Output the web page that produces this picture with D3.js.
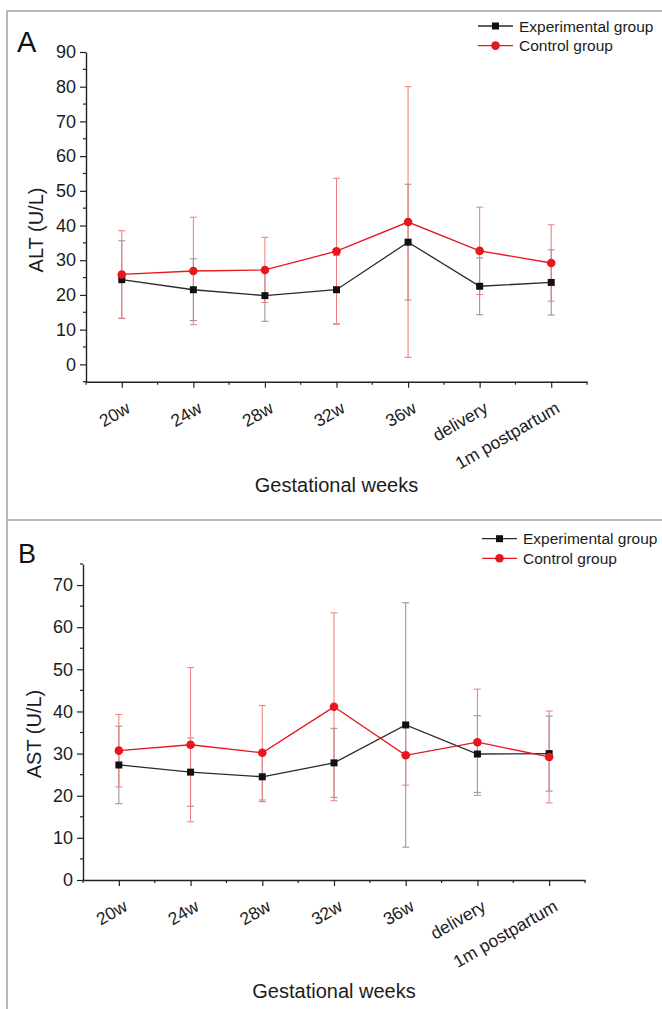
<!DOCTYPE html>
<html>
<head>
<meta charset="utf-8">
<script src="https://cdn.jsdelivr.net/npm/d3@7"></script>
<style>
	body{margin:0;background:#fff}
	svg{display:block;font-family:"Liberation Sans",Arial,sans-serif}
</style>
</head>
<body>
<div id="chart"></div>
<script>
var weeks=['20w','24w','28w','32w','36w','delivery','1m postpartum']
var seriesNames=['Experimental group','Control group']

// panel A, ALT
var altExpMean=[24.4, 21.5, 19.8, 21.5, 35.2, 22.5, 23.6]
var altExpSd=[11.2, 8.9, 7.4, 9.9, 16.7, 8.2, 9.4]
var altCtrlMean=[25.9, 26.9, 27.2, 32.6, 41.0, 32.7, 29.2]
var altCtrlSd=[12.6, 15.5, 9.4, 21.0, 39.0, 12.6, 11.0]
var altTicks=[0,10,20,30,40,50,60,70,80,90]

// panel B, AST
var astExpMean=[27.3, 25.6, 24.5, 27.8, 36.8, 29.9, 30.0]
var astExpSd=[9.2, 8.1, 5.9, 8.2, 29.0, 9.1, 8.9]
var astCtrlMean=[30.7, 32.1, 30.2, 41.1, 29.6, 32.7, 29.2]
var astCtrlSd=[8.6, 18.3, 11.2, 22.3, 7.1, 12.6, 10.9]
var astTicks=[0,10,20,30,40,50,60,70]

var W=662, H=1009
var RED='#e8161d', BLACK='#111', TXT='#1c1c1c'

var svg=d3.select('#chart').append('svg')
	.attr('width',W).attr('height',H)

// panel frames
svg.append('path')
	.attr('d','M7,'+H+'V11H'+W+'M7,520H'+W)
	.attr('fill','none').attr('stroke','#a3a3a3').attr('stroke-width',1.5)

function panel(opt){
	var g=svg.append('g')
	var x=d3.scaleLinear().domain([-0.5, weeks.length-0.5]).range([opt.x0, opt.x1])
	var y=d3.scaleLinear().domain(opt.yDomain).range([opt.yBottom, opt.yTop])

	// y axis
	var yAxis=d3.axisLeft(y).tickValues(opt.yTicks).tickSize(6).tickSizeOuter(0).tickPadding(4)
	g.append('g').attr('transform','translate('+opt.x0+',0)').call(yAxis)
	var minorY=d3.range(opt.yDomain[0], opt.yDomain[1]+1, 5)
		.filter(function(v){return v%10!==0})
	g.append('g').attr('transform','translate('+opt.x0+',0)')
		.selectAll('line').data(minorY).join('line')
		.attr('x1',-3).attr('x2',0).attr('y1',function(d){return y(d)}).attr('y2',function(d){return y(d)})
		.attr('stroke','#222').attr('stroke-width',1.2)

	// x axis
	var xAxis=d3.axisBottom(x).tickValues(d3.range(weeks.length)).tickSize(6).tickSizeOuter(0)
		.tickFormat(function(i){return weeks[i]})
	var xa=g.append('g').attr('transform','translate(0,'+opt.yBottom+')').call(xAxis)
	xa.selectAll('.tick text')
		.attr('text-anchor','end')
		.attr('transform','translate(3,19) rotate(-30)')
		.attr('dy','0.71em').attr('y',0).attr('x',0)
	g.append('g').attr('transform','translate(0,'+opt.yBottom+')')
		.selectAll('line').data(d3.range(-0.5, weeks.length, 1)).join('line')
		.attr('x1',function(d){return x(d)}).attr('x2',function(d){return x(d)})
		.attr('y1',0).attr('y2',3)
		.attr('stroke','#222').attr('stroke-width',1.2)

	g.selectAll('.domain').attr('stroke','#222').attr('stroke-width',1.4)
	g.selectAll('.tick line').attr('stroke','#222').attr('stroke-width',1.2)
	g.selectAll('.tick text').attr('fill',TXT).attr('font-size','18px')
	xa.selectAll('.tick text').attr('font-size','17.5px')

	// axis titles
	g.append('text')
		.attr('x',(opt.x0+opt.x1)/2).attr('y',opt.xTitleY)
		.attr('text-anchor','middle').attr('font-size','20px').attr('fill',TXT)
		.text('Gestational weeks')
	g.append('text')
		.attr('transform','translate('+opt.yTitleX+','+opt.yTitleY+') rotate(-90)')
		.attr('text-anchor','middle').attr('font-size','20px').attr('fill',TXT)
		.text(opt.yTitle)
	g.append('text')
		.attr('x',opt.letterX).attr('y',opt.letterY)
		.attr('font-size',opt.letterSize+'px').attr('fill','#111')
		.text(opt.letter)

	// series
	var series=[
		{mean:opt.exp, sd:opt.expSd, line:'#2a2a2a', err:'#8e8e8e', shape:'square'},
		{mean:opt.ctrl, sd:opt.ctrlSd, line:RED, err:'#ef7b7b', shape:'circle'}
	]
	series.forEach(function(s){
		var eb=g.append('g')
		s.mean.forEach(function(m,i){
			var lo=y(m-s.sd[i]), hi=y(m+s.sd[i]), cx=x(i)
			eb.append('path')
				.attr('d','M'+cx+','+lo+'V'+hi+'M'+(cx-3.5)+','+hi+'H'+(cx+3.5)+'M'+(cx-3.5)+','+lo+'H'+(cx+3.5))
				.attr('fill','none').attr('stroke',s.err).attr('stroke-width',1)
		})
	})
	series.forEach(function(s){
		var line=d3.line().x(function(d,i){return x(i)}).y(function(d){return y(d)})
		g.append('path').datum(s.mean).attr('d',line)
			.attr('fill','none').attr('stroke',s.line).attr('stroke-width',1.3)
		if(s.shape==='square'){
			g.selectAll(null).data(s.mean).join('rect')
				.attr('x',function(d,i){return x(i)-3.5}).attr('y',function(d){return y(d)-3.5})
				.attr('width',7).attr('height',7).attr('fill',BLACK)
		}else{
			g.selectAll(null).data(s.mean).join('circle')
				.attr('cx',function(d,i){return x(i)}).attr('cy',function(d){return y(d)})
				.attr('r',4.3).attr('fill',RED)
		}
	})

	// legend
	var lg=g.append('g')
	seriesNames.forEach(function(name,k){
		var ly=opt.legendY+k*19.6
		var col=k===0?'#2a2a2a':RED
		lg.append('line').attr('x1',opt.legendX).attr('x2',opt.legendX+35)
			.attr('y1',ly).attr('y2',ly).attr('stroke',col).attr('stroke-width',1.3)
		if(k===0)
			lg.append('rect').attr('x',opt.legendX+17.5-3.5).attr('y',ly-3.5).attr('width',7).attr('height',7).attr('fill',BLACK)
		else
			lg.append('circle').attr('cx',opt.legendX+17.5).attr('cy',ly).attr('r',4.3).attr('fill',RED)
		lg.append('text').attr('x',opt.legendX+41).attr('y',ly+5.5)
			.attr('font-size','15.5px').attr('fill',TXT).text(name)
	})
}

panel({
	x0:86, x1:587, yBottom:381.7, yTop:52, yDomain:[-5,90], yTicks:altTicks,
	exp:altExpMean, expSd:altExpSd, ctrl:altCtrlMean, ctrlSd:altCtrlSd,
	xTitleY:492, yTitle:'ALT (U/L)', yTitleX:43, yTitleY:230,
	letter:'A', letterX:17, letterY:52, letterSize:29,
	legendX:478, legendY:26
})
panel({
	x0:83, x1:585, yBottom:880, yTop:564, yDomain:[0,75], yTicks:astTicks,
	exp:astExpMean, expSd:astExpSd, ctrl:astCtrlMean, ctrlSd:astCtrlSd,
	xTitleY:998, yTitle:'AST (U/L)', yTitleX:41, yTitleY:734,
	letter:'B', letterX:18, letterY:563, letterSize:27,
	legendX:482, legendY:538.7
})
</script>
</body>
</html>
